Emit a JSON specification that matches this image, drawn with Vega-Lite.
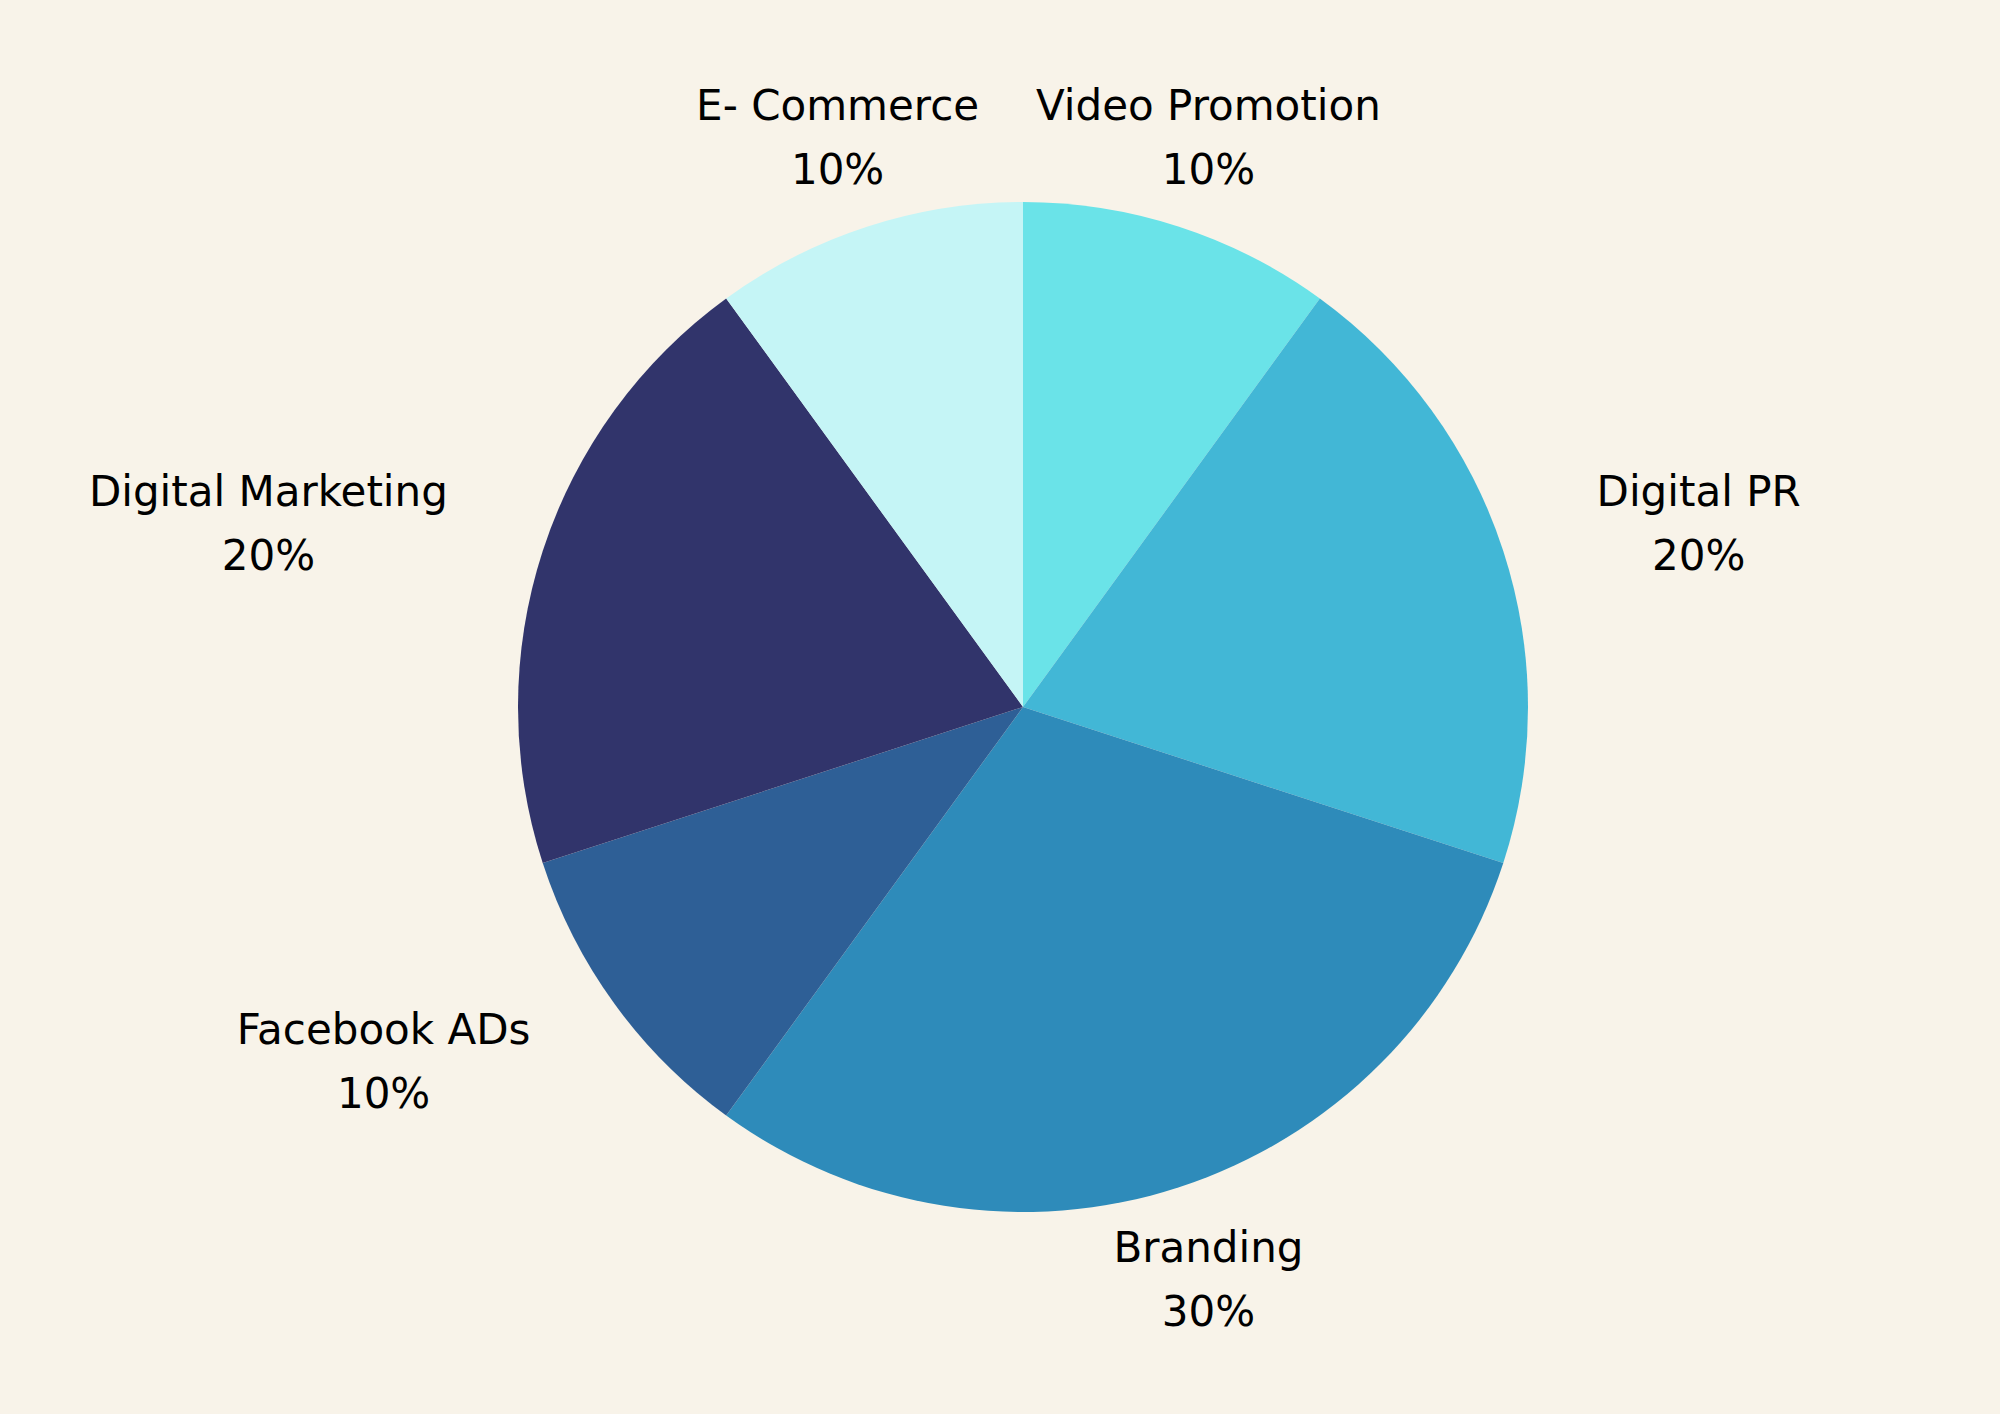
{
  "$schema": "https://vega.github.io/schema/vega-lite/v6.json",
  "autosize": {"type": "fit", "contains": "padding"},
  "width": 2000,
  "height": 1414,
  "padding": {"left": 46, "right": 0, "top": 0, "bottom": 0},
  "background": "#F8F3E9",
  "config": {"view": {"stroke": null}, "text": {"font": "DejaVu Sans", "fontSize": 42, "baseline": "middle", "align": "center", "radius": 600, "fill": "#000000"}},
  "data": {
    "values": [
      {"category": "Video Promotion", "value": 0.1, "rank": 1},
      {"category": "Digital PR", "value": 0.2, "rank": 2},
      {"category": "Branding", "value": 0.3, "rank": 3},
      {"category": "Facebook ADs", "value": 0.1, "rank": 4},
      {"category": "Digital Marketing", "value": 0.2, "rank": 5},
      {"category": "E- Commerce", "value": 0.1, "rank": 6}
    ]
  },
  "encoding": {
    "theta": {"field": "value", "type": "quantitative", "stack": true},
    "order": {"field": "rank", "type": "quantitative"}
  },
  "layer": [
    {
      "mark": {"type": "arc", "radius": 505},
      "encoding": {
        "color": {
          "field": "category",
          "type": "nominal",
          "scale": {
            "domain": ["Video Promotion", "Digital PR", "Branding", "Facebook ADs", "Digital Marketing", "E- Commerce"],
            "range": ["#6AE3E8", "#42B7D6", "#2E8BBA", "#2E5F96", "#31346B", "#C5F5F6"]
          },
          "legend": null
        }
      }
    },
    {
      "mark": {"type": "text", "dy": -29},
      "encoding": {"text": {"condition": {"test": "datum.category === 'Video Promotion' || datum.category === 'Branding' || datum.category === 'E- Commerce'", "field": "category", "type": "nominal"}, "value": ""}}
    },
    {
      "mark": {"type": "text", "dy": 35},
      "encoding": {"text": {"condition": {"test": "datum.category === 'Video Promotion' || datum.category === 'Branding' || datum.category === 'E- Commerce'", "field": "value", "type": "quantitative", "format": ".0%"}, "value": ""}}
    },
    {
      "mark": {"type": "text", "dy": -29, "dx": 105},
      "encoding": {"text": {"condition": {"test": "datum.category === 'Digital PR'", "field": "category", "type": "nominal"}, "value": ""}}
    },
    {
      "mark": {"type": "text", "dy": 35, "dx": 105},
      "encoding": {"text": {"condition": {"test": "datum.category === 'Digital PR'", "field": "value", "type": "quantitative", "format": ".0%"}, "value": ""}}
    },
    {
      "mark": {"type": "text", "dy": -29, "dx": -184},
      "encoding": {"text": {"condition": {"test": "datum.category === 'Digital Marketing'", "field": "category", "type": "nominal"}, "value": ""}}
    },
    {
      "mark": {"type": "text", "dy": 35, "dx": -184},
      "encoding": {"text": {"condition": {"test": "datum.category === 'Digital Marketing'", "field": "value", "type": "quantitative", "format": ".0%"}, "value": ""}}
    },
    {
      "mark": {"type": "text", "dy": -29, "dx": -154},
      "encoding": {"text": {"condition": {"test": "datum.category === 'Facebook ADs'", "field": "category", "type": "nominal"}, "value": ""}}
    },
    {
      "mark": {"type": "text", "dy": 35, "dx": -154},
      "encoding": {"text": {"condition": {"test": "datum.category === 'Facebook ADs'", "field": "value", "type": "quantitative", "format": ".0%"}, "value": ""}}
    }
  ]
}
